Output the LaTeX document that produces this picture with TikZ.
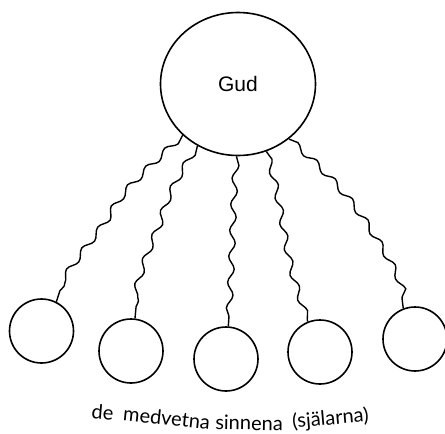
\documentclass[tikz,border=0pt]{standalone}
\usepackage{fontspec}
\setmainfont{Liberation Sans}
\newfontfamily\labelfont{Lato}
\usetikzlibrary{shapes.geometric,decorations.pathmorphing}
\begin{document}
\begin{tikzpicture}[x=1pt,y=-1pt]
\tikzset{
  ring/.style={circle,draw,line width=1.6pt,minimum size=64pt,inner sep=0pt},
  wave/.style={line width=1.4pt,decorate,decoration={snake,segment length=26pt,amplitude=3pt,pre length=1pt,post length=1pt}},
  word/.style={font=\labelfont\fontsize{20}{22}\selectfont,anchor=base,inner sep=0pt}
}
\useasboundingbox (0,0) rectangle (445,434);
\node[ellipse,draw,line width=1.6pt,minimum width=155pt,minimum height=143pt,inner sep=0pt] (gud) at (238,84) {\fontsize{21}{24}\selectfont Gud};
\node[ring] (s1) at (41.5,331) {};
\node[ring] (s2) at (131,351) {};
\node[ring] (s3) at (226,359) {};
\node[ring] (s4) at (320,352) {};
\node[ring] (s5) at (415,339) {};
\draw[wave] (gud.223) .. controls (140,175) and (125,190) .. (113,213) .. controls (95,240) and (65,270) .. (s1.63);
\draw[wave] (gud.237) .. controls (175,180) and (168,200) .. (163,220) .. controls (150,250) and (138,280) .. (s2.83);
\draw[wave] (gud.269) .. controls (233,200) and (233,260) .. (s3.86);
\draw[wave] (gud.293) .. controls (278,190) and (282,230) .. (288,255) .. controls (293,280) and (302,300) .. (s4.112);
\draw[wave] (gud.313) .. controls (330,175) and (350,200) .. (367,227) .. controls (385,255) and (400,280) .. (s5.111);
\node[word,rotate=-5] (w1) at (102,419) {de};
\node[word,rotate=-6] (w2) at (166,425) {medvetna};
\node[word,rotate=-1] (w3) at (249,430) {sinnena};
\node[word,rotate=5] (w4) at (331,425) {(själarna)};
\end{tikzpicture}
\end{document}
